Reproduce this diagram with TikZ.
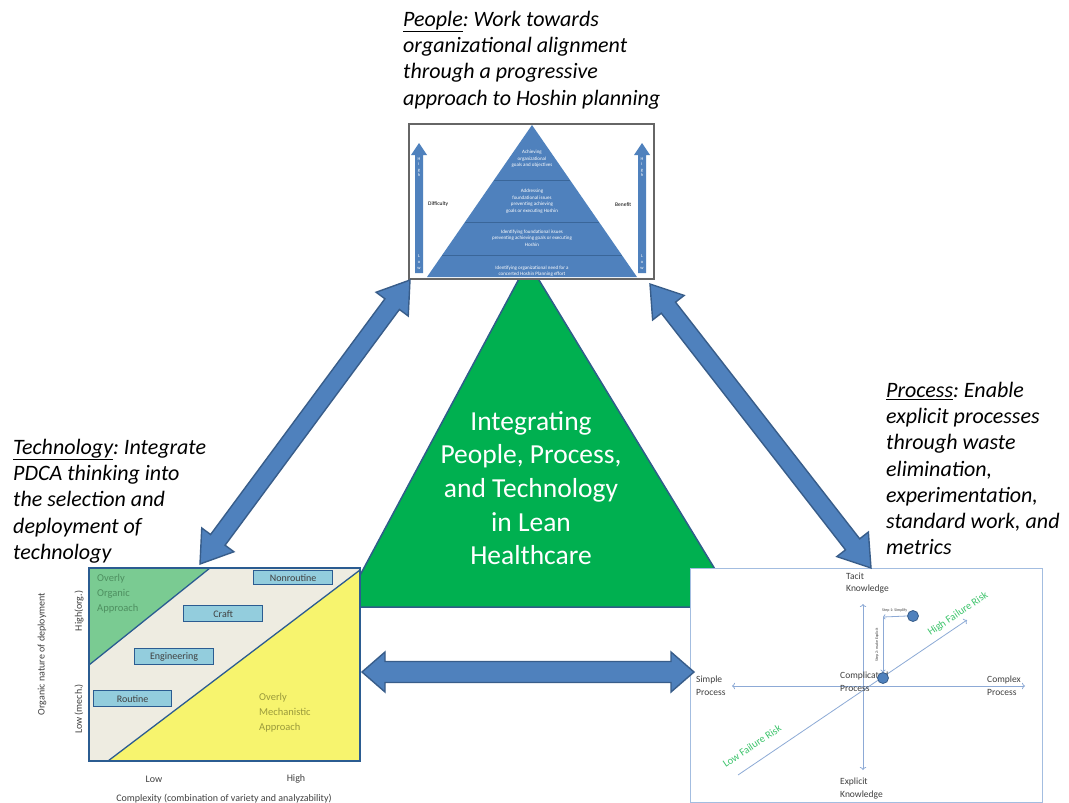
\documentclass[tikz,border=0pt]{standalone}
\usepackage{fontspec}
\setmainfont{Carlito}
\frenchspacing
\usetikzlibrary{calc,arrows.meta}
\definecolor{abl}{HTML}{4F81BD}
\definecolor{abd}{HTML}{385D8A}
\definecolor{cgreen}{HTML}{00B050}
\definecolor{cgreenb}{HTML}{2F5D8A}
\definecolor{beige}{HTML}{EEECE1}
\definecolor{lgreen}{HTML}{7ACB92}
\definecolor{lyellow}{HTML}{F7F46E}
\definecolor{chartline}{HTML}{2B5C91}
\definecolor{boxfill}{HTML}{93CDDD}
\definecolor{procframe}{HTML}{A3BDE0}
\definecolor{axisc}{HTML}{8DAAD6}
\definecolor{riskgreen}{HTML}{3CC46B}
\definecolor{orgtext}{HTML}{4E8F60}
\definecolor{mechtext}{HTML}{9A9A3C}
\definecolor{darktext}{HTML}{404040}
\definecolor{pyrline}{HTML}{3A6699}
\newcommand\bigarrow[6]{%
  \coordinate (#3h1) at ($(#1)!#4!(#2)$);
  \coordinate (#3h2) at ($(#2)!#4!(#1)$);
  \draw[bigarrowstyle] (#1) -- ($(#3h1)!#5!90:(#2)$) -- ($(#3h1)!#6!90:(#2)$)
    -- ($(#3h2)!#6!-90:(#1)$) -- ($(#3h2)!#5!-90:(#1)$) -- (#2)
    -- ($(#3h2)!#5!90:(#1)$) -- ($(#3h2)!#6!90:(#1)$)
    -- ($(#3h1)!#6!-90:(#2)$) -- ($(#3h1)!#5!-90:(#2)$) -- cycle;}
\begin{document}
\begin{tikzpicture}[x=1pt,y=-1pt,
  bigarrowstyle/.style={fill=abl,draw=abd,line width=1.4pt,line join=miter},
  capfont/.style={font=\fontsize{22}{26.2}\selectfont\itshape},
  pyrtext/.style={font=\fontsize{5}{6.6}\selectfont,text=white,align=center,inner sep=0},
  tinytext/.style={font=\fontsize{5.5}{7}\selectfont,inner sep=0},
  chartbox/.style={draw=chartline,fill=boxfill,line width=1.3pt,minimum width=78pt,minimum height=16pt,inner sep=0,font=\fontsize{10}{12}\selectfont,text=darktext},
  axislbl/.style={font=\fontsize{10}{12}\selectfont,text=darktext,inner sep=0},
  proclbl/.style={font=\fontsize{9.5}{12.2}\selectfont,text=darktext,inner sep=0,align=left,anchor=north west},
  axisline/.style={draw=axisc,line width=0.8pt},
  dotstyle/.style={circle,fill=abl,draw=abd,line width=0.8pt,minimum size=11pt,inner sep=0},
  riskstyle/.style={font=\fontsize{10.5}{12}\selectfont,text=riskgreen,inner sep=0,rotate=34}
]
\useasboundingbox[fill=white] (0,0) rectangle (1069,803);

% central green triangle
\draw[fill=cgreen,draw=cgreenb,line width=1.5pt,line join=miter] (528,262) -- (343,607) -- (738,607) -- cycle;
\node[font=\fontsize{27.5}{33.7}\selectfont,text=white,align=center,inner sep=0] (core) at (531,488)
  {Integrating\\People, Process,\\and Technology\\in Lean\\Healthcare};

% People image
\node[draw=gray!80!black,fill=white,line width=1.5pt,minimum width=245pt,minimum height=155pt,anchor=north west,inner sep=0] (people) at (408,123) {};
\fill[abl] (532,125) -- (427,277) -- (637,277) -- cycle;
\draw[pyrline,line width=0.8pt] (494,180) -- (570,180) (465,222) -- (599,222) (442,255) -- (622,255);
\node[pyrtext] (p1) at (532,159) {Achieving\\organizational\\goals and objectives};
\node[pyrtext] (p2) at (532,201) {Addressing\\foundational issues\\preventing achieving\\goals or executing Hoshin};
\node[pyrtext] (p3) at (532,238) {Identifying foundational issues\\preventing achieving goals or executing\\Hoshin};
\node[pyrtext] (p4) at (532,271) {Identifying organizational need for a\\concerted Hoshin Planning effort};
\foreach \cx/\nm in {419/l,642/r}{
  \fill[abl] (\cx,143) -- (\cx+8,155) -- (\cx+4,155) -- (\cx+4,273) -- (\cx-4,273) -- (\cx-4,155) -- (\cx-8,155) -- cycle;
  \node[pyrtext,font=\fontsize{4.5}{5.6}\selectfont] (hi\nm) at (\cx,167) {H\\i\\g\\h};
  \node[pyrtext,font=\fontsize{4.5}{5.6}\selectfont] (lo\nm) at (\cx,262) {L\\o\\w};
}
\node[tinytext,anchor=west] (diff) at (428,204) {Difficulty};
\node[tinytext,anchor=west] (bene) at (615,205) {Benefit};

% Technology image
\node[draw=chartline,fill=beige,line width=1.3pt,minimum width=271pt,minimum height=193pt,anchor=north west,inner sep=0] (tech) at (89,568) {};
\draw[fill=lgreen,draw=chartline,line width=1.3pt] (89,568) -- (210,568) -- (89,665) -- cycle;
\draw[fill=lyellow,draw=chartline,line width=1.3pt] (108,761) -- (360,570) -- (360,761) -- cycle;
\draw[chartline,line width=1.3pt] (89,568) rectangle (360,761);
\node[font=\fontsize{10.5}{15}\selectfont,text=orgtext,align=left,anchor=north west,inner sep=0] (org) at (97,574) {Overly\\Organic\\Approach};
\node[font=\fontsize{10.5}{15}\selectfont,text=mechtext,align=left,anchor=north west,inner sep=0] (mech) at (259,693) {Overly\\Mechanistic\\Approach};
\node[chartbox,anchor=north west,minimum width=79pt,minimum height=14pt] (nonr) at (253,570) {Nonroutine};
\node[chartbox,anchor=north west,minimum width=79pt,minimum height=16pt] (craft) at (183,605) {Craft};
\node[chartbox,anchor=north west,minimum width=79pt,minimum height=16pt] (eng) at (134,648) {Engineering};
\node[chartbox,anchor=north west,minimum width=78pt,minimum height=16pt] (rout) at (93,690) {Routine};
\node[axislbl] (lowx) at (154,779) {Low};
\node[axislbl] (highx) at (296,779) {High};
\node[axislbl] (xlab) at (224,799) {Complexity (combination of variety and analyzability)};
\node[axislbl,rotate=90] (ylab) at (42,654) {Organic nature of deployment};
\node[axislbl,rotate=90] (yhigh) at (79,611) {High(org.)};
\node[axislbl,rotate=90] (ylow) at (79,709) {Low (mech.)};

% Process image
\node[draw=procframe,fill=white,line width=1.3pt,minimum width=352pt,minimum height=234pt,anchor=north west,inner sep=0] (process) at (690,568) {};
\coordinate (hl) at (732,686); \coordinate (hr) at (1025,686);
\coordinate (vt) at (863,604); \coordinate (vb) at (863,770);
\coordinate (dl) at (738,775); \coordinate (dr) at (967,620);
\draw[axisline,{To[length=3pt]}-{To[length=3pt]}] (hl) -- (hr);
\draw[axisline,{To[length=3pt]}-{To[length=3pt]}] (vt) -- (vb);
\draw[axisline,-{To[length=3pt]}] (dl) -- (dr);
\node[proclbl] (tacit) at (846,573) {Tacit\\Knowledge};
\node[proclbl] (simple) at (696,676) {Simple\\Process};
\node[proclbl] (compl) at (840,672) {Complicated\\Process};
\node[proclbl] (complex) at (987,676) {Complex\\Process};
\node[proclbl] (explicit) at (840,778) {Explicit\\Knowledge};
\node[riskstyle] (hrisk) at (958,614) {High Failure Risk};
\node[riskstyle] (lrisk) at (752,746) {Low Failure Risk};
\node[dotstyle] (d1) at (913,616) {};
\node[dotstyle] (d2) at (883,678) {};
\coordinate (corner) at (883,617);
\draw[axisline,-{To[length=2.5pt]}] (d1.west) -- (corner);
\draw[axisline,-{To[length=2.5pt]}] (corner) -- (d2.north);
\node[tinytext,font=\fontsize{4}{5}\selectfont,text=darktext,anchor=south west] (s1) at (882,612) {Step 1: Simplify};
\node[tinytext,font=\fontsize{4}{5}\selectfont,text=darktext,rotate=90] (s2) at (877,645) {Step 2: make Explicit};

% captions
\node[capfont,align=left,anchor=north west,inner sep=0] (peoplecap) at (403,11)
  {\underline{People}: Work towards\\organizational alignment\\through a progressive\\approach to Hoshin planning};
\node[capfont,align=left,anchor=north west,inner sep=0] (techcap) at (13,439)
  {\underline{Technology}: Integrate\\PDCA thinking into\\the selection and\\deployment of\\technology};
\node[capfont,align=left,anchor=north west,inner sep=0] (proccap) at (886,382)
  {\underline{Process}: Enable\\explicit processes\\through waste\\elimination,\\experimentation,\\standard work, and\\metrics};

% big connectors
\coordinate (la) at (200,564); \coordinate (lb) at (410,280);
\coordinate (ra) at (871,568); \coordinate (rb) at (650,284);
\coordinate (ha) at (362,672); \coordinate (hb) at (694,672);
\bigarrow{la}{lb}{L}{30pt}{20pt}{9pt}
\bigarrow{ra}{rb}{R}{30pt}{20pt}{9pt}
\bigarrow{ha}{hb}{H}{23pt}{20pt}{10.5pt}
\end{tikzpicture}
\end{document}
